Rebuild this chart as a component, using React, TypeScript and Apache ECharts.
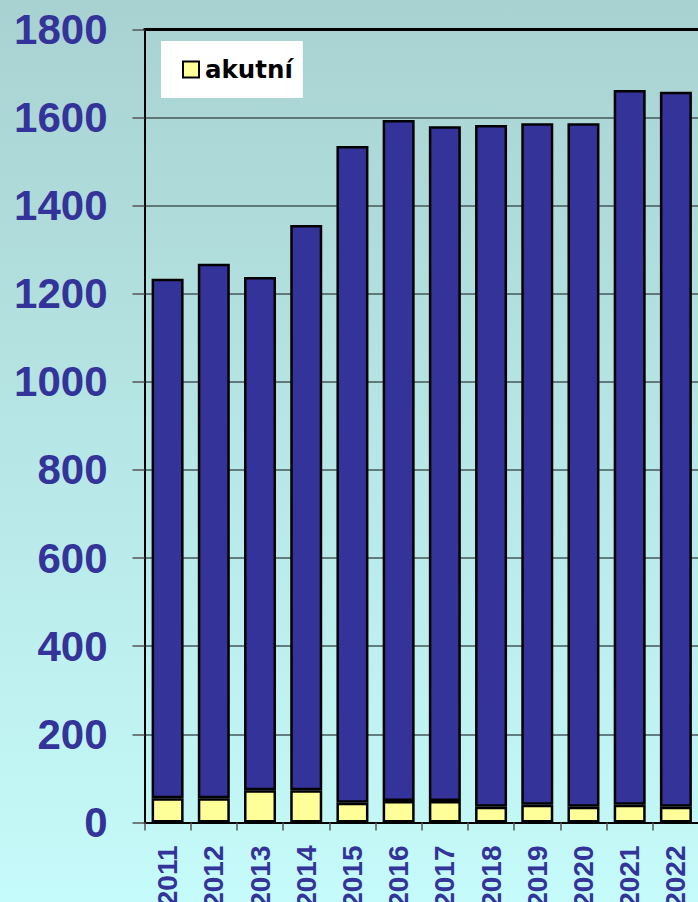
import React, { useEffect, useRef } from "react";
import * as echarts from "echarts";

const years = ["2011", "2012", "2013", "2014", "2015", "2016", "2017", "2018", "2019", "2020", "2021", "2022"];
const totals = [1234, 1268, 1238, 1356, 1535, 1594, 1580, 1583, 1587, 1587, 1662, 1658];
const acute = [55, 55, 73, 73, 45, 49, 49, 36, 40, 36, 40, 36];
const chronic = totals.map((t, i) => t - acute[i]);

export default function App() {
  const ref = useRef<HTMLDivElement>(null);
  useEffect(() => {
    document.body.style.margin = "0";
    const chart = echarts.init(ref.current!, null, { renderer: "svg" });
    chart.setOption({
      animation: false,
      backgroundColor: new echarts.graphic.LinearGradient(0, 0, 0, 1, [
        { offset: 0, color: "#a8d2d1" },
        { offset: 1, color: "#c5fbfa" },
      ]),
      grid: { left: 144.5, top: 29.3, right: -1, bottom: 79.5, containLabel: false, outerBoundsMode: "none" },
      legend: {
        data: [{ name: "akutní", icon: "rect" }],
        left: 161,
        top: 41,
        padding: [16, 10, 16, 21],
        itemWidth: 16,
        itemHeight: 16,
        backgroundColor: "#ffffff",
        textStyle: {
          fontFamily: "DejaVu Sans",
          fontWeight: "bold",
          fontSize: 24.5,
          color: "#000",
          padding: [0, 0, 0, 1],
        },
      },
      xAxis: [
        {
          type: "category",
          data: years,
          position: "bottom",
          axisLine: { lineStyle: { color: "#000", width: 2 } },
          axisTick: { show: true, length: 8, lineStyle: { color: "#555", width: 1.5 } },
          axisLabel: {
            interval: 0,
            rotate: 90,
            margin: 23,
            fontFamily: "Liberation Sans",
            fontWeight: "bold",
            fontSize: 28,
            color: "#333399",
          },
        },
        {
          type: "category",
          data: years,
          position: "top",
          axisLine: { lineStyle: { color: "#000", width: 3 } },
          axisTick: { show: false },
          axisLabel: { show: false },
        },
      ],
      yAxis: {
        type: "value",
        min: 0,
        max: 1800,
        interval: 200,
        axisLine: { show: true, lineStyle: { color: "#000", width: 2 } },
        axisTick: { show: true, length: 12, lineStyle: { color: "#555", width: 1.5 } },
        splitLine: { lineStyle: { color: "#445757", width: 1.5 } },
        axisLabel: {
          margin: 37,
          fontFamily: "Liberation Sans",
          fontWeight: "bold",
          fontSize: 42,
          color: "#333399",
          formatter: (v: number) => String(v),
        },
      },
      series: [
        {
          name: "akutní",
          type: "bar",
          stack: "total",
          data: acute,
          barWidth: 32,
          itemStyle: { color: "#ffff99", borderColor: "#000", borderWidth: 2.5 },
        },
        {
          name: "chronické",
          type: "bar",
          stack: "total",
          data: chronic,
          barWidth: 32,
          itemStyle: { color: "#333399", borderColor: "#000", borderWidth: 2.5 },
        },
      ],
    });
    return () => chart.dispose();
  }, []);
  return <div ref={ref} style={{ width: 698, height: 902 }} />;
}
